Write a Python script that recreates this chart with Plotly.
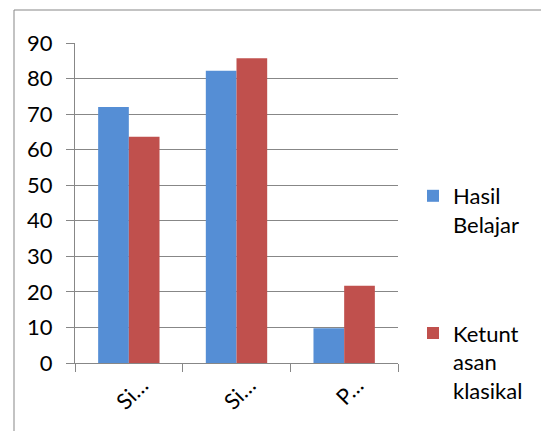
import plotly.graph_objects as go

categories = ["Si…", "Si…", "P…"]
series_names = ["Hasil<br>Belajar", "Ketunt<br>asan<br>klasikal"]
hasil_belajar = [72.0, 82.2, 9.8]
ketuntasan_klasikal = [63.6, 85.7, 21.7]
y_ticks = [0, 10, 20, 30, 40, 50, 60, 70, 80, 90]

colors = ["#558ED5", "#C0504D"]
FONT = "Lato, 'Open Sans', sans-serif"
GRAY = "#878787"

xpos = list(range(len(categories)))

fig = go.Figure()
for i, (name, vals) in enumerate(zip(series_names, [hasil_belajar, ketuntasan_klasikal])):
    fig.add_trace(go.Bar(
        x=xpos, y=vals, name=name, marker=dict(color=colors[i], line=dict(width=0)),
        legendgroup=f"g{i}",
    ))

# plot area in pixels: left 75, right 398, top 43, bottom 363
W, H = 541, 431
L, R, T, B = 75, 398, 43, 363
pw, ph = R - L, B - T

def px(x):
    return (x - L) / pw

def py(y):
    return (B - y) / ph

fig.update_layout(
    width=W, height=H,
    margin=dict(l=L, r=W - R, t=T, b=H - B, pad=0, autoexpand=False),
    paper_bgcolor="white", plot_bgcolor="white",
    barmode="group", bargap=0.43, bargroupgap=0,
    font=dict(family=FONT, size=22, color="#000000"),
    legend=dict(
        x=px(413), y=py(175), xanchor="left", yanchor="top",
        traceorder="grouped", tracegroupgap=77, valign="top",
        font=dict(size=22, family=FONT), itemclick=False,
    ),
    xaxis=dict(
        range=[-0.5, 2.5], tickvals=xpos, ticktext=categories, tickangle=-45,
        ticks="", showgrid=False, showline=True, linecolor=GRAY, linewidth=1,
        zeroline=False, tickfont=dict(size=22), ticklabelshift=13,
        minor=dict(tick0=-0.5, dtick=1, ticks="outside", ticklen=8, tickcolor=GRAY, showgrid=False),
    ),
    yaxis=dict(
        range=[0, 90], tickvals=y_ticks, ticks="outside", ticklen=8, tickcolor=GRAY,
        showgrid=True, gridcolor=GRAY, gridwidth=1, showline=True, linecolor=GRAY,
        linewidth=1, zeroline=False, tickfont=dict(size=22), ticklabelstandoff=9,
    ),
    shapes=[dict(
        type="rect", xref="paper", yref="paper",
        x0=px(14), x1=px(W + 20), y0=py(H + 20), y1=py(10),
        line=dict(color=GRAY, width=1), fillcolor="rgba(0,0,0,0)", layer="below",
    )],
)

fig.write_html("out.html", config={"displayModeBar": False},
               post_script="document.body.style.margin='0';")
